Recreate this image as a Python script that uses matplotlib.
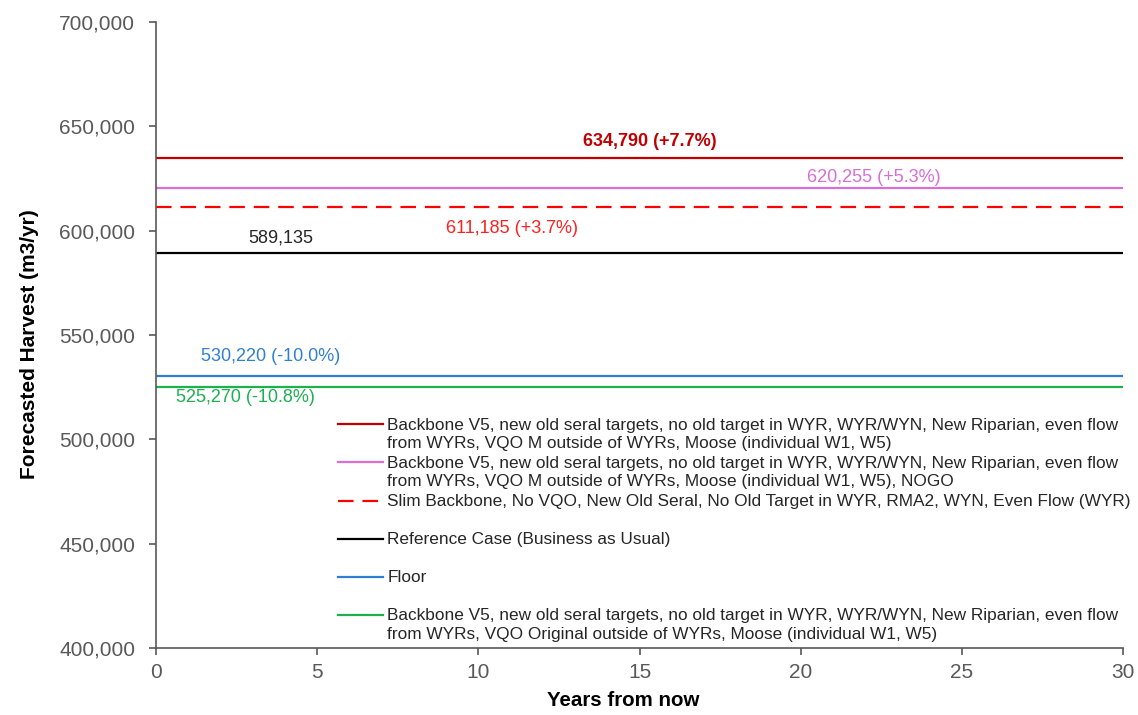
import numpy as np
import matplotlib
matplotlib.use("Agg")
import matplotlib.pyplot as plt
from matplotlib.ticker import FuncFormatter, MultipleLocator
from matplotlib.legend_handler import HandlerLine2D

# data
years = [0, 30]
series_names = [
    "Backbone V5, new old seral targets, no old target in WYR, WYR/WYN, New Riparian, even flow\n"
    "from WYRs, VQO M outside of WYRs, Moose (individual W1, W5)",
    "Backbone V5, new old seral targets, no old target in WYR, WYR/WYN, New Riparian, even flow\n"
    "from WYRs, VQO M outside of WYRs, Moose (individual W1, W5), NOGO",
    "Slim Backbone, No VQO, New Old Seral, No Old Target in WYR, RMA2, WYN, Even Flow (WYR)",
    "Reference Case (Business as Usual)",
    "Floor",
    "Backbone V5, new old seral targets, no old target in WYR, WYR/WYN, New Riparian, even flow\n"
    "from WYRs, VQO Original outside of WYRs, Moose (individual W1, W5)",
]
harvest = [634790, 620255, 611185, 589135, 530220, 525270]
value_labels = ["634,790 (+7.7%)", "620,255 (+5.3%)", "611,185 (+3.7%)",
                "589,135", "530,220 (-10.0%)", "525,270 (-10.8%)"]

colors = ["#C00000", "#D86ED8", "#FF0000", "#000000", "#2F80D0", "#1DB04E"]
label_colors = ["#C00000", "#D86ED8", "#FF2020", "#262626", "#2F80D0", "#1DB04E"]
styles = ["-", "-", (0, (7, 4)), "-", "-", "-"]
# label placement: x position (years), vertical offset (points), bold
label_x = [15.33, 22.27, 11.04, 3.88, 3.57, 2.79]
label_dy = [12, 8, -15, 11, 14, -8]
label_bold = [True, False, False, False, False, False]


class FirstLineHandler(HandlerLine2D):
    """Puts the legend line next to the first line of the label."""
    def __init__(self, shift=0.0, **kw):
        super().__init__(**kw)
        self.shift = shift

    def create_artists(self, legend, orig_handle, xdescent, ydescent,
                       width, height, fontsize, trans):
        artists = super().create_artists(legend, orig_handle, xdescent, ydescent,
                                         width, height, fontsize, trans)
        for a in artists:
            a.set_ydata(np.asarray(a.get_ydata()) + self.shift * fontsize)
        return artists


plt.rcParams['font.family'] = ['Liberation Sans', 'DejaVu Sans']

fig = plt.figure(figsize=(11.38, 7.15), dpi=100)
ax = fig.add_axes([156 / 1138, 67 / 715, 967 / 1138, 626 / 715])

lines = []
for v, c, ls in zip(harvest, colors, styles):
    ln, = ax.plot(years, [v, v], color=c, linestyle=ls, linewidth=1.6)
    lines.append(ln)

for v, txt, c, x, dy, b in zip(harvest, value_labels, label_colors, label_x, label_dy, label_bold):
    ax.annotate(txt, xy=(x, v), xytext=(0, dy), textcoords="offset points",
                ha="center", va="center", fontsize=13, color=c,
                fontweight="bold" if b else "normal")

ax.set_xlim(0, 30)
ax.set_ylim(400000, 700000)
ax.xaxis.set_major_locator(MultipleLocator(5))
ax.yaxis.set_major_locator(MultipleLocator(50000))
ax.yaxis.set_major_formatter(FuncFormatter(lambda v, p: f"{int(v):,}"))

for s in ["top", "right"]:
    ax.spines[s].set_visible(False)
for s in ["left", "bottom"]:
    ax.spines[s].set_color("#595959")
    ax.spines[s].set_linewidth(1.2)
ax.tick_params(axis="both", colors="#595959", labelcolor="#595959",
               labelsize=15, length=5, width=1.2, direction="out")
ax.tick_params(axis="y", pad=10)
ax.tick_params(axis="x", pad=6)

ax.set_ylabel("Forecasted Harvest (m3/yr)", fontsize=15, fontweight="bold", color="#000000")
ax.yaxis.set_label_coords(-0.121, 0.486)
ax.set_xlabel("Years from now", fontsize=14.8, fontweight="bold", color="#000000")
ax.xaxis.set_label_coords(0.483, -0.068)

# every legend entry gets a two-line slot, like the original
legend_labels = [n if "\n" in n else n + "\n" for n in series_names]
handler_map = {ln: FirstLineHandler(shift=0.58) for ln in lines}

leg = ax.legend(lines, legend_labels, loc="upper left", bbox_to_anchor=(0.188, 0.368),
                frameon=False, fontsize=12.4, handlelength=2.65, handletextpad=0.23,
                labelspacing=0.26, borderpad=0, borderaxespad=0, handler_map=handler_map)
for t in leg.get_texts():
    t.set_linespacing(1.3)
    t.set_color("#262626")

fig.savefig("out.png", dpi=100)
